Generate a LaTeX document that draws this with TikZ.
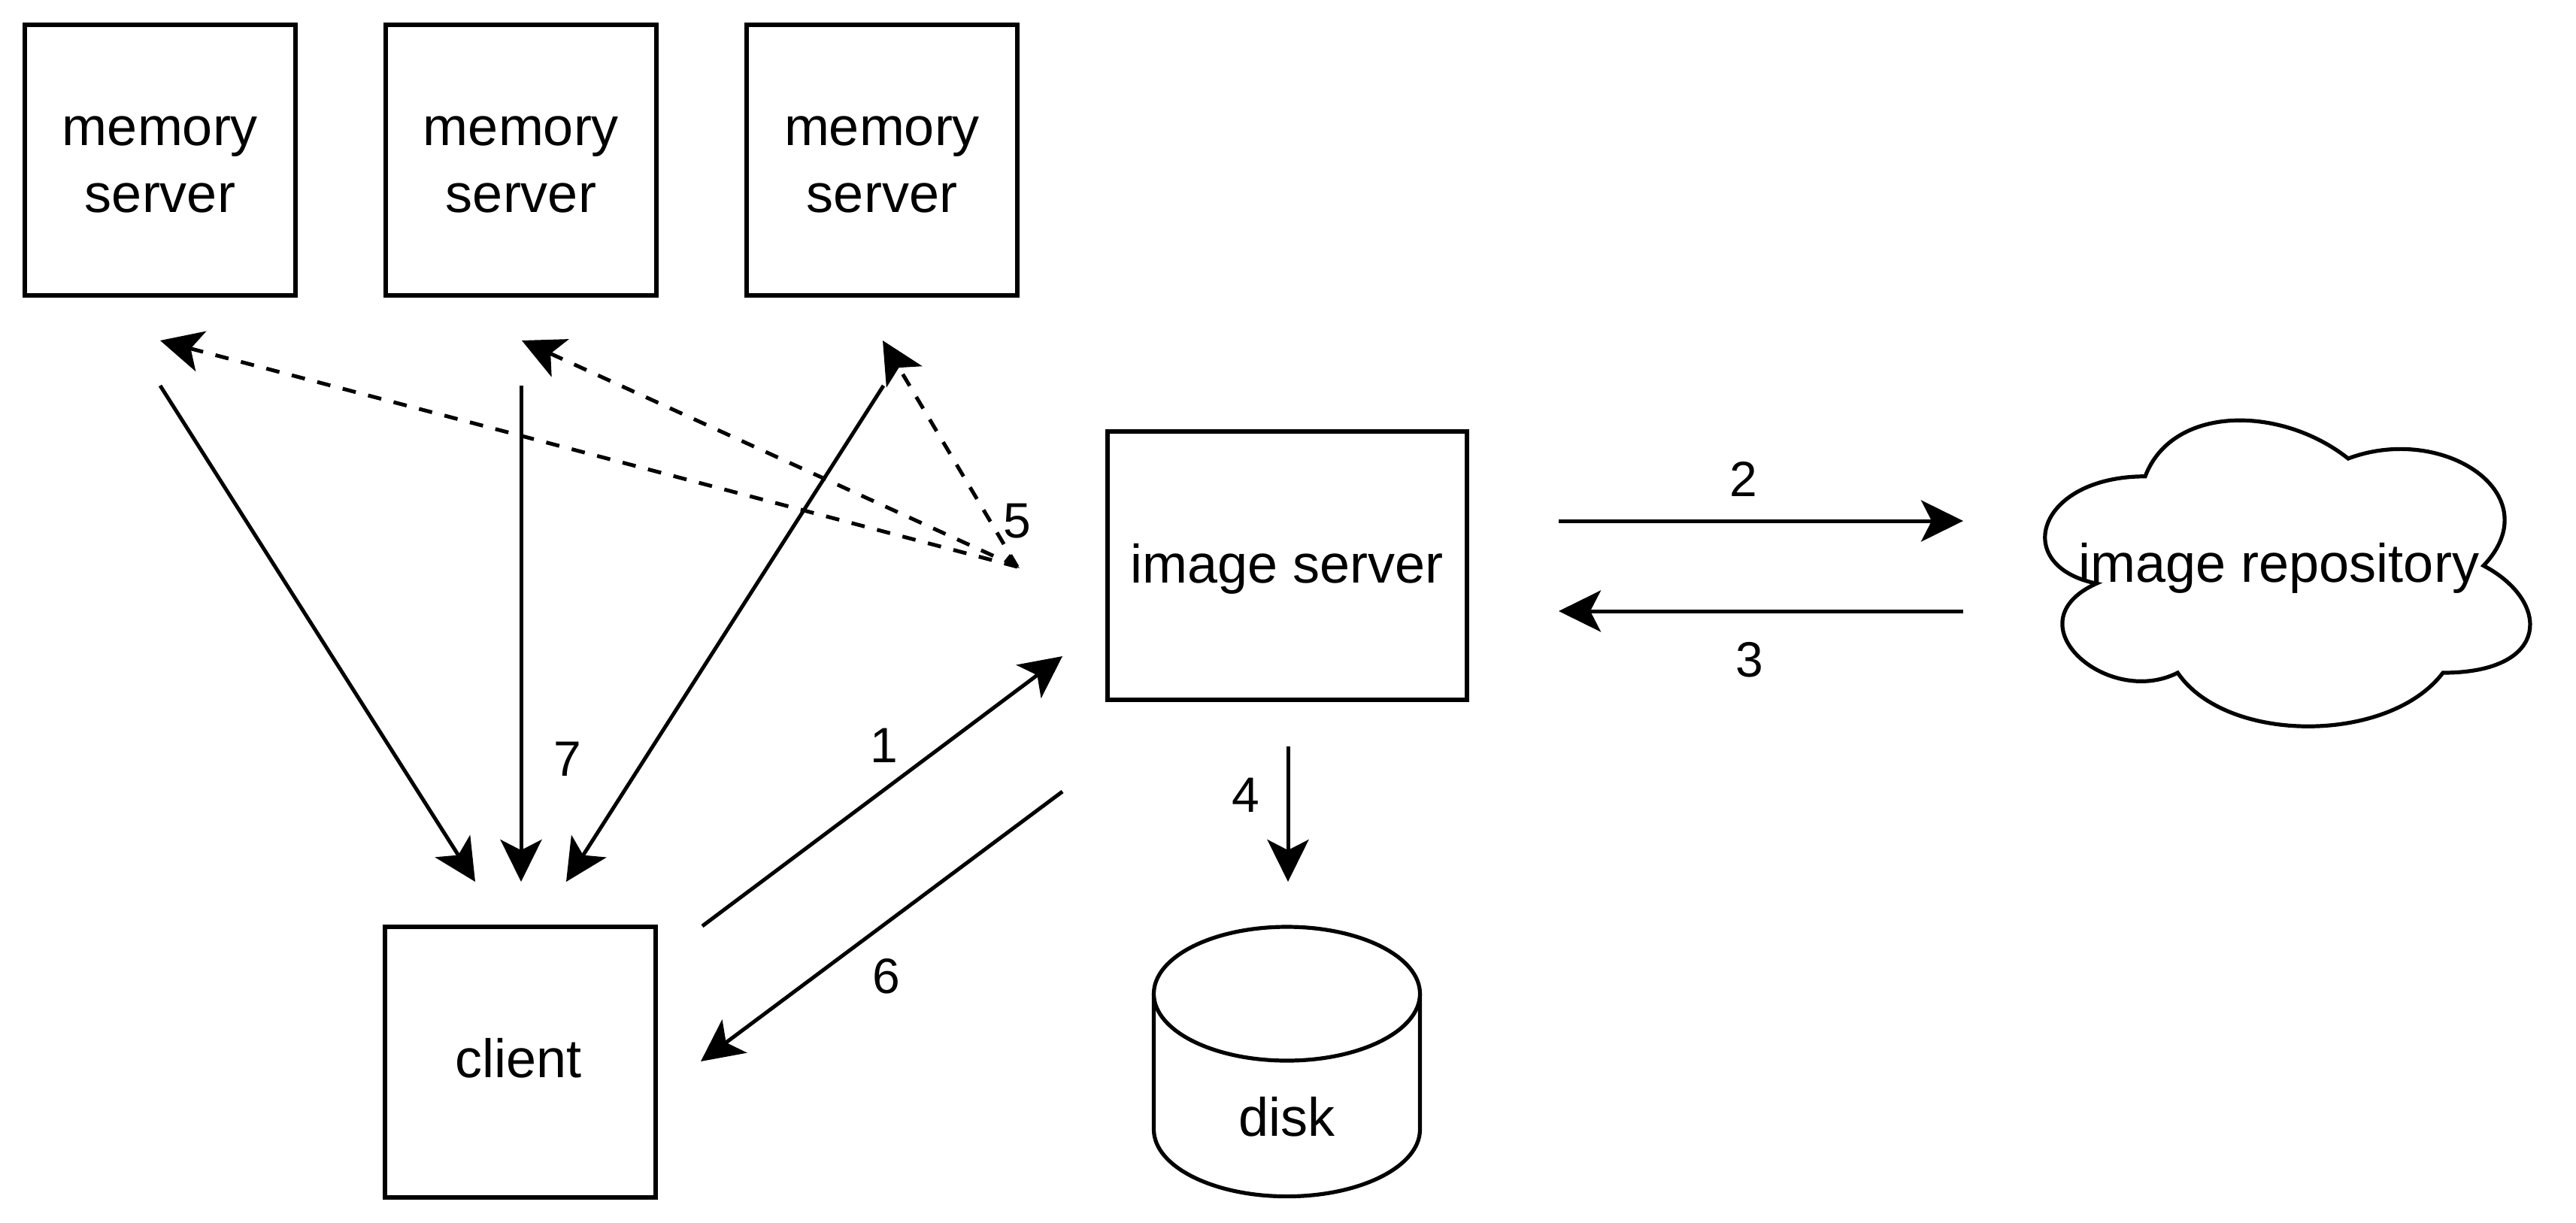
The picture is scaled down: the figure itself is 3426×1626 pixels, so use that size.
\documentclass[tikz,border=0pt]{standalone}
\usepackage{fontspec}
\setmainfont{Liberation Sans}
\usetikzlibrary{arrows.meta}
\begin{document}
\begin{tikzpicture}[x=1pt,y=-1pt,
  box/.style={draw, line width=5.2pt, inner sep=0pt, fill=white},
  txt/.style={font=\fontsize{72}{86}\selectfont, inner sep=0pt, anchor=base},
  num/.style={font=\fontsize{66}{80}\selectfont, inner sep=0pt, anchor=base},
  conn/.style={line width=5pt, -{Stealth[length=56pt,width=55pt,inset=14pt]}},
  dconn/.style={conn, dash pattern=on 18pt off 17pt}]
\fill[white] (0,0) rectangle (3426,1626);
\useasboundingbox (0,0) rectangle (3426,1626);

% memory servers
\node[box, minimum width=360pt, minimum height=360pt] (m1) at (213,213) {};
\node[box, minimum width=360pt, minimum height=360pt] (m2) at (693,213) {};
\node[box, minimum width=360pt, minimum height=360pt] (m3) at (1173,213) {};
\node[txt] (m1a) at (213,193) {memory};
\node[txt] (m1b) at (213,282) {server};
\node[txt] (m2a) at (693,193) {memory};
\node[txt] (m2b) at (693,282) {server};
\node[txt] (m3a) at (1173,193) {memory};
\node[txt] (m3b) at (1173,282) {server};

% client
\node[box, minimum width=360pt, minimum height=360pt] (client) at (692,1413) {};
\node[txt] (clientt) at (690,1433) {client};

% image server
\node[box, minimum width=478pt, minimum height=357pt] (imgsrv) at (1712,752.5) {};
\node[txt] (imgsrvt) at (1712,775) {image server};

% disk
\draw[line width=5.2pt, fill=white] (1534.5,1322) -- (1534.5,1502.6)
  arc[start angle=180, end angle=360, x radius=177pt, y radius=89pt] -- (1888.5,1322);
\draw[line width=5.2pt, fill=white] (1711.5,1322) ellipse[x radius=177pt, y radius=89pt];
\node[txt] (disk) at (1711,1511) {disk};

% image repository (cloud)
\begin{scope}[shift={(2673,515)}, x=720pt, y=-475pt]
\draw[line width=5.2pt, fill=white] (0.25,0.25) .. controls (0.05,0.25) and (0,0.5) .. (0.16,0.55)
  .. controls (0,0.66) and (0.18,0.9) .. (0.31,0.8)
  .. controls (0.4,1) and (0.7,1) .. (0.8,0.8)
  .. controls (1,0.8) and (1,0.6) .. (0.875,0.5)
  .. controls (1,0.3) and (0.8,0.1) .. (0.625,0.2)
  .. controls (0.5,0.05) and (0.3,0.05) .. (0.25,0.25) -- cycle;
\end{scope}
\node[txt] (repo) at (3031,774) {image repository};

% connector end points
\coordinate (s1) at (213,513);   \coordinate (t1) at (632,1173);
\coordinate (s2) at (693,513);   \coordinate (t2) at (693,1173);
\coordinate (s3) at (1175,513);  \coordinate (t3) at (753,1173);
\coordinate (P)  at (1353,754);
\coordinate (d1) at (213,453);
\coordinate (d2) at (694,453);
\coordinate (d3) at (1174,453);
\coordinate (a1s) at (934,1232); \coordinate (a1t) at (1413,873);
\coordinate (a6s) at (1413,1053); \coordinate (a6t) at (932,1412);
\coordinate (a4s) at (1713,993); \coordinate (a4t) at (1713,1173);
\coordinate (a2s) at (2073,693); \coordinate (a2t) at (2611,693);
\coordinate (a3s) at (2611,813); \coordinate (a3t) at (2073,813);

% memory servers to client (7)
\draw[conn] (s1) -- (t1);
\draw[conn] (s2) -- (t2);
\draw[conn] (s3) -- (t3);
% dashed (5)
\draw[dconn] (P) -- (d1);
\draw[dconn] (P) -- (d2);
\draw[dconn] (P) -- (d3);
\fill (1343,737) -- (1356,756) -- (1335,747) -- cycle;
% others
\draw[conn] (a1s) -- (a1t);
\draw[conn] (a6s) -- (a6t);
\draw[conn] (a4s) -- (a4t);
\draw[conn] (a2s) -- (a2t);
\draw[conn] (a3s) -- (a3t);

% labels
\node[num] (l1) at (1176,1014) {1};
\node[num] (l2) at (2319,660) {2};
\node[num] (l3) at (2327,900) {3};
\node[num] (l4) at (1657,1080) {4};
\node[num] (l5) at (1353,715) {5};
\node[num] (l6) at (1179,1321) {6};
\node[num] (l7) at (755,1032) {7};
\end{tikzpicture}
\end{document}
